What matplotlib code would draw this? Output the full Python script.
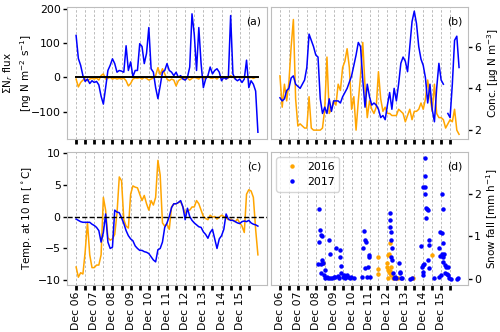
import numpy as np
import matplotlib
matplotlib.use('Agg')
from matplotlib import pyplot as plt

plt.rcParams['font.size'] = 7.8

# time axis, days after Dec 06 00:00 (3 hourly values)
t = np.arange(81) / 8.0

flux_2016 = [-5, -28, -15, -8, -5, -10, -5, -3, -5, -2, -8, 5, 10, -5, -3, 0,
             -5, -2, -5, -3, -5, -2, -10, -25, -18, -5, -2, -3, -1, -5, 0, -3,
             -8, -5, -2, 5, 28, 8, 25, 10, -5, -10, -5, -8, -25, -10, -5, -3,
             -5, -2, -8, -3, 0, -2, -5, 2, -5, -3, 5, -2, -3, 0, -5, 2,
             -3, 0, -5, -2, 5, 0, -3, 2, 0, -2, 3, 0, -2, 0, -3, 0, 0]
flux_2017 = [122, 55, 35, 5, -12, -5, -18, -10, -15, -12, -22, -55, -78, -30, 20, 35,
             54, 40, 15, 20, 18, 15, 92, 20, 45, 2, 20, 20, 98, 90, 40, 70,
             145, 25, 15, -30, -62, -25, 15, 20, 40, 20, 15, 5, 15, 0, 5, -5,
             -8, 0, 30, 185, 125, 20, 145, 40, -30, -5, 5, 30, 10, 20, 25, 15,
             -10, 0, -5, 0, 180, 10, -5, -10, -5, -15, -5, 50, -30, -10, -20, -40, -160]

conc_2016 = [4.6, 3.1, 4.2, 3.4, 4.3, 6.0, 7.3, 3.5, 2.2, 2.3, 2.2, 2.1, 2.1, 3.6, 2.1, 2.0,
             2.0, 2.0, 2.0, 2.1, 3.0, 5.5, 2.8, 3.0, 3.4, 3.2, 4.2, 3.9, 5.0, 5.3, 5.9, 5.0,
             3.0, 3.6, 2.0, 3.4, 4.6, 6.2, 4.1, 2.6, 3.4, 3.0, 2.8, 3.1, 4.8, 3.5, 2.9, 3.1,
             2.8, 2.8, 2.7, 2.7, 2.7, 3.0, 2.9, 2.8, 2.4, 2.7, 3.0, 2.5, 2.9, 2.9, 3.0, 3.3,
             3.0, 3.5, 4.4, 3.6, 2.9, 4.2, 2.8, 2.6, 2.6, 2.5, 2.1, 2.3, 2.5, 2.4, 3.0, 2.0, 1.8]
conc_2017 = [3.55, 3.4, 3.5, 3.9, 4.0, 4.5, 4.6, 4.2, 4.1, 4.0, 4.2, 4.4, 5.0, 6.6, 6.3, 6.0,
             5.6, 5.5, 3.5, 2.8, 3.1, 2.8, 3.5, 2.9, 3.4, 3.4, 3.4, 3.3, 3.6, 3.8, 4.0, 4.3,
             4.6, 5.1, 5.6, 6.2, 6.0, 4.4, 3.1, 4.2, 3.6, 3.2, 3.3, 3.2, 3.0, 2.6, 2.7, 2.5,
             3.2, 3.8, 3.0, 4.0, 3.4, 4.2, 5.2, 5.5, 5.3, 4.8, 6.0, 7.2, 7.7, 7.1, 6.0, 5.4,
             5.1, 4.5, 3.3, 4.2, 3.0, 2.4, 4.0, 5.2, 4.4, 4.2, np.nan, 2.8, 2.6, 4.2, 6.3, 6.5, 5.0]

temp_2016 = [-7.9, -9.5, -8.8, -9.0, -5.5, -0.9, -6.0, -8.0, -8.0, -7.6, -7.6, -6.0, 3.0, 1.0, -3.3, -3.7,
             -3.5, -2.8, 0.5, 6.2, 5.6, -0.5, -1.5, -1.8, 3.5, 4.8, 4.6, 4.5, 3.5, 2.5, 3.3, 2.0,
             1.0, 2.5, 1.8, 3.0, 8.8, 6.5, -1.0, -1.5, -1.2, -2.0, 1.5, 2.0, 2.0, 2.2, 2.3, 1.5,
             0.5, 1.0, 1.0, 1.5, 1.5, 2.5, 2.0, 1.0, 0.0, -0.3, -0.5, 0.2, -0.1, 0.0, -0.4, -0.1,
             0.2, 0.0, -0.2, -0.5, -0.4, -0.6, -0.8, -0.4, -1.0, -1.5, -2.5, 3.5, 4.2, 4.0, 3.0, -2.0, -6.0]
temp_2017 = [-0.4, -0.6, -0.8, -0.9, -0.9, -0.9, -0.9, -1.2, -1.4, -1.7, -2.2, -4.0, -2.5, 0.4, -4.0, -5.0,
             -4.8, 1.0, 0.7, 0.6, -0.2, -1.1, -2.2, -3.0, -3.5, -3.8, -4.6, -5.0, -5.3, -5.3, -5.5, -5.6,
             -5.8, -6.3, -6.8, -7.1, -5.2, -5.0, -4.0, -1.7, -1.0, 0.0, 1.4, 2.0, 2.0, 2.2, 2.5, 1.5,
             -0.5, 1.3, 0.0, -0.6, -1.0, -1.3, -1.6, -1.7, -2.4, -2.8, -3.4, -2.5, -2.0, -3.5, -5.0, -3.5,
             -3.0, -2.0, 0.4, -0.4, -0.6, -0.6, -0.8, -1.0, -1.1, -0.8, -0.7, -0.8, -0.6, -1.0, -1.2, -1.3, -1.5]

# snow fall, time in days after Dec 06
snow16_t = [2.41, 5.49, 5.49, 5.45, 6.17, 6.08, 6.04, 6.00, 5.95, 6.04, 6.10, 6.17, 6.22,
            6.13, 6.22, 6.32, 6.04, 6.46, 6.59, 7.42, 8.49]
snow16_v = [0.39, 0.51, 0.23, 0.12, 0.85, 0.59, 0.57, 0.39, 0.28, 0.22, 0.18, 0.20, 0.29,
            0.14, 0.10, 0.02, 0.02, 0.02, 0.02, 0.02, 0.57]
snow17_t = [2.17, 2.23, 2.27, 2.32, 2.17, 2.14, 2.27, 2.36, 2.41, 2.27, 2.49, 2.45, 2.54, 2.60,
            2.67, 2.76, 2.78, 2.82, 2.91, 3.00, 3.09, 3.15, 3.22, 3.28, 3.33, 3.37, 3.41, 3.43,
            3.52, 3.59, 3.65, 3.74, 3.79, 3.89, 3.96, 4.11,
            4.71, 4.75, 4.81, 4.66, 4.75, 4.57, 4.84, 4.94, 4.97, 4.99, 5.03,
            6.13, 6.17, 6.17, 6.19, 6.22, 6.26, 6.22, 6.28, 6.32, 6.35, 6.41, 6.50, 6.65, 6.69,
            6.69, 6.78, 6.83, 7.27, 7.38,
            8.10, 8.10, 8.01, 8.12, 8.12, 8.16, 8.21, 8.25, 8.14, 8.32, 8.31, 7.88, 7.97, 8.05,
            7.94, 7.97, 7.97, 8.27, 8.34,
            9.04, 9.12, 8.93, 9.04, 9.08, 8.90, 9.04, 9.17, 8.95, 9.08, 9.13, 9.23, 9.26, 9.36,
            9.23, 9.32, 9.41, 8.86, 8.99, 8.62, 9.45, 9.54, 9.91, 9.94]
snow17_v = [1.63, 1.16, 1.03, 1.01, 0.88, 0.36, 0.36, 0.45, 0.37, 0.14, 0.22, 0.10, 0.02, 0.05,
            0.02, 0.91, 0.58, 0.02, 0.02, 0.06, 0.05, 0.72, 0.08, 0.02, 0.68, 0.53, 0.31, 0.14,
            0.06, 0.10, 0.02, 0.10, 0.05, 0.02, 0.06, 0.02,
            1.13, 0.91, 0.88, 0.74, 0.26, 0.06, 0.06, 0.28, 0.53, 0.57, 0.06,
            1.55, 1.38, 1.22, 1.11, 0.91, 0.72, 0.53, 0.45, 0.14, 0.02, 0.06, 0.02, 0.37, 0.18,
            0.14, 0.02, 0.02, 0.01, 0.02,
            2.84, 2.40, 2.16, 2.16, 1.98, 1.67, 1.63, 1.61, 1.44, 0.91, 0.80, 0.78, 0.33, 0.36,
            0.29, 0.18, 0.10, 0.45, 0.26,
            2.00, 1.65, 1.11, 1.07, 0.84, 0.74, 0.59, 0.60, 0.54, 0.53, 0.41, 0.33, 0.29, 0.29,
            0.14, 0.12, 0.10, 0.06, 0.10, 0.02, 0.02, 0.01, 0.01, 0.02]

day_labels = ['Dec 06', 'Dec 07', 'Dec 08', 'Dec 09', 'Dec 10',
              'Dec 11', 'Dec 12', 'Dec 13', 'Dec 14', 'Dec 15']

c16 = 'orange'
c17 = 'blue'

fig = plt.figure(figsize=(5, 3.32), dpi=100)
ax_a = fig.add_axes([0.134, 0.581, 0.400, 0.398])
ax_b = fig.add_axes([0.542, 0.581, 0.394, 0.398])
ax_c = fig.add_axes([0.134, 0.142, 0.400, 0.400])
ax_d = fig.add_axes([0.542, 0.142, 0.394, 0.400])

ticks = np.arange(0, 10, 0.5)
for ax in [ax_a, ax_b, ax_c, ax_d]:
    ax.set_xlim(-0.5, 10.5)
    ax.set_xticks(ticks)
    for s in ax.spines.values():
        s.set_color('#bdbdbd')
    ax.tick_params(axis='x', length=3.5, width=2, color='black', pad=1.5)
    ax.tick_params(axis='y', length=3, width=1, color='black', pad=1.5)
    ax.grid(axis='x', color='#bbbbbb', linestyle=(0, (2.5, 2)), linewidth=0.7)
    ax.set_axisbelow(True)

for ax in [ax_a, ax_b]:
    ax.set_xticklabels([])
for ax in [ax_c, ax_d]:
    labels = []
    for i in range(len(ticks)):
        labels.append(day_labels[i // 2] if i % 2 == 0 else '')
    ax.set_xticklabels(labels, rotation=90)

# (a) flux
ax_a.plot(t, flux_2016, color=c16, lw=1.1)
ax_a.plot(t, flux_2017, color=c17, lw=1.1)
ax_a.plot([0, 10], [0, 0], color='black', lw=1.4)
ax_a.set_ylim(-180, 205)
ax_a.set_yticks([-100, 0, 100, 200])
ax_a.set_ylabel('$\\Sigma$N$_r$ flux\n[ng N m$^{-2}$ s$^{-1}$]', fontsize=7.5,
                linespacing=1.3)
ax_a.yaxis.set_label_coords(-0.165, 0.5)
ax_a.text(0.97, 0.93, '(a)', transform=ax_a.transAxes, ha='right', va='top')

# (b) concentration
ax_b.plot(t, conc_2016, color=c16, lw=1.1)
ax_b.plot(t, conc_2017, color=c17, lw=1.1)
ax_b.set_ylim(1.57, 7.9)
ax_b.set_yticks([2, 4, 6])
ax_b.yaxis.tick_right()
ax_b.yaxis.set_label_position('right')
ax_b.set_ylabel('Conc. [\u00b5g N m$^{-3}$]', fontsize=7.5)
ax_b.yaxis.set_label_coords(1.085, 0.5)
ax_b.text(0.97, 0.93, '(b)', transform=ax_b.transAxes, ha='right', va='top')

# (c) temperature
ax_c.plot(t, temp_2016, color=c16, lw=1.1)
ax_c.plot(t, temp_2017, color=c17, lw=1.1)
ax_c.axhline(0, color='black', lw=1, linestyle='--')
ax_c.set_ylim(-10.7, 10.1)
ax_c.set_yticks([-10, -5, 0, 5, 10])
ax_c.set_ylabel('Temp. at 10 m [$^\\circ$C]', fontsize=7.5)
ax_c.yaxis.set_label_coords(-0.165, 0.5)
ax_c.text(0.97, 0.93, '(c)', transform=ax_c.transAxes, ha='right', va='top')

# (d) snow fall
ax_d.plot(snow16_t, snow16_v, 'o', color=c16, ms=2.2, label='2016')
ax_d.plot(snow17_t, snow17_v, 'o', color=c17, ms=2.2, label='2017')
ax_d.set_ylim(-0.13, 2.97)
ax_d.set_yticks([0, 1, 2])
ax_d.yaxis.tick_right()
ax_d.yaxis.set_label_position('right')
ax_d.set_ylabel('Snow fall [mm h$^{-1}$]', fontsize=7.5)
ax_d.yaxis.set_label_coords(1.085, 0.5)
ax_d.text(0.97, 0.93, '(d)', transform=ax_d.transAxes, ha='right', va='top')
ax_d.legend(loc='upper left', fontsize=7.8, handletextpad=0.4, borderpad=0.4)

plt.savefig('out.png', dpi=100)
plt.close()
